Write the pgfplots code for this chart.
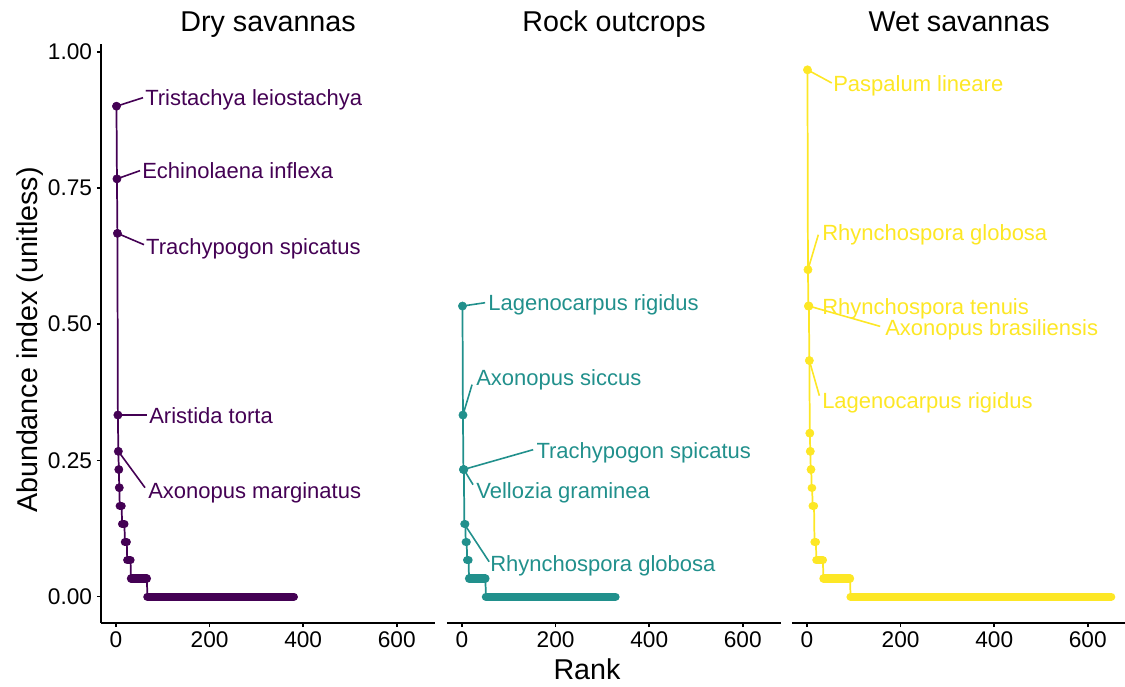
\documentclass[border=0pt]{standalone}
\usepackage{pgfplots}
\pgfplotsset{compat=1.18}
\usepackage{fontspec}
\setmainfont{Liberation Sans}

\definecolor{dry}{HTML}{440154}
\definecolor{rock}{HTML}{21908C}
\definecolor{wet}{HTML}{FDE725}

\pgfplotsset{
  facet/.style={
    scale only axis, width=250.95pt, height=434.6pt,
    xmin=-32.5, xmax=682.5, ymin=-0.0483, ymax=1.015,
    clip=false, anchor=south west,
    axis x line*=bottom,
    xtick={0,200,400,600},
    tick align=outside, major tick length=3pt,
    every tick/.style={black, line width=1.2pt},
    axis line style={line width=1.2pt, black},
    tick label style={font=\fontsize{17}{20}\selectfont, text=black},
    /pgf/number format/assume math mode=true,
  },
  noy/.style={axis y line=none, ytick=\empty},
  conn/.style={line width=1.3pt, mark=none},
  dots/.style={only marks, mark=*, mark size=3.1pt},
  run/.style={line width=6.2pt, line cap=round, mark=none},
}
\tikzset{
  lab/.style={anchor=base west, inner sep=0pt, font=\fontsize{16.5}{19}\selectfont},
  seg/.style={line width=1.2pt},
  ptitle/.style={anchor=base, inner sep=0pt, yshift=9pt, font=\fontsize{21.5}{24}\selectfont},
}

\begin{document}
\begin{tikzpicture}
\useasboundingbox (0,0) rectangle (843.75pt,514.5pt);

% ---------------- Dry savannas ----------------
\begin{axis}[facet, at={(75.6pt,47.25pt)},
  axis y line*=left,
  ytick={0,0.25,0.5,0.75,1},
  yticklabel style={/pgf/number format/.cd, fixed, fixed zerofill, precision=2},
]
\addplot[conn, dry] coordinates {(1,0.9) (2,0.7667) (3,0.6667) (4,0.3333) (5,0.2667)
  (6,0.2333) (7,0.2) (8,0.1667) (12,0.1667) (13,0.1333) (18,0.1333) (19,0.1) (23,0.1)
  (24,0.0667) (31,0.0667) (32,0.0333) (66,0.0333) (67,0) (380,0)};
\addplot[dots, dry] coordinates {(1,0.9) (2,0.7667) (3,0.6667) (4,0.3333) (5,0.2667) (6,0.2333) (7,0.2)};
\addplot[run, dry] coordinates {(8,0.1667) (12,0.1667)};
\addplot[run, dry] coordinates {(13,0.1333) (18,0.1333)};
\addplot[run, dry] coordinates {(19,0.1) (23,0.1)};
\addplot[run, dry] coordinates {(24,0.0667) (31,0.0667)};
\addplot[run, dry] coordinates {(32,0.0333) (66,0.0333)};
\addplot[run, dry] coordinates {(67,0) (380,0)};
\draw[seg, dry] (1,0.9) -- (57.7,0.9156);
\draw[seg, dry] (2,0.7667) -- (51.3,0.7817);
\draw[seg, dry] (3,0.6667) -- (59.8,0.6459);
\draw[seg, dry] (4,0.3333) -- (66.2,0.3333);
\draw[seg, dry] (5,0.2667) -- (62,0.2);
\node[lab, dry] at (62,0.901) {Tristachya leiostachya};
\node[lab, dry] at (55.6,0.767) {Echinolaena inflexa};
\node[lab, dry] at (64,0.6275) {Trachypogon spicatus};
\node[lab, dry] at (70.5,0.3174) {Aristida torta};
\node[lab, dry] at (68.4,0.1798) {Axonopus marginatus};
\node[ptitle] at (rel axis cs:0.5,1) {Dry savannas};
\end{axis}

% ---------------- Rock outcrops ----------------
\begin{axis}[facet, noy, at={(335.1pt,47.25pt)}]
\addplot[conn, rock] coordinates {(1,0.5333) (2,0.3333) (3,0.2333) (4,0.2333)
  (5,0.1333) (7,0.1333) (8,0.1) (10,0.1) (11,0.0667) (14,0.0667)
  (15,0.0333) (50,0.0333) (51,0) (328,0)};
\addplot[dots, rock] coordinates {(1,0.5333) (2,0.3333) (3,0.2333) (4,0.2333)};
\addplot[run, rock] coordinates {(5,0.1333) (7,0.1333)};
\addplot[run, rock] coordinates {(8,0.1) (10,0.1)};
\addplot[run, rock] coordinates {(11,0.0667) (14,0.0667)};
\addplot[run, rock] coordinates {(15,0.0333) (50,0.0333)};
\addplot[run, rock] coordinates {(51,0) (328,0)};
\draw[seg, rock] (1,0.5333) -- (49.3,0.5394);
\draw[seg, rock] (2,0.3333) -- (21.4,0.389);
\draw[seg, rock] (3,0.2333) -- (152,0.2697);
\draw[seg, rock] (4,0.2333) -- (23.6,0.2055);
\draw[seg, rock] (5,0.1333) -- (57.9,0.0642);
\node[lab, rock] at (55.7,0.5248) {Lagenocarpus rigidus};
\node[lab, rock] at (30,0.3872) {Axonopus siccus};
\node[lab, rock] at (158.6,0.2532) {Trachypogon spicatus};
\node[lab, rock] at (30,0.1798) {Vellozia graminea};
\node[lab, rock] at (60,0.0459) {Rhynchospora globosa};
\node[ptitle] at (rel axis cs:0.5,1) {Rock outcrops};
\end{axis}

% ---------------- Wet savannas ----------------
\begin{axis}[facet, noy, at={(593.85pt,47.25pt)}]
\addplot[conn, wet] coordinates {(1,0.9667) (2,0.6) (3,0.5333) (4,0.5333) (5,0.4333)
  (6,0.3) (7,0.2667) (8,0.2333) (9,0.2333) (10,0.2) (11,0.2) (12,0.1667) (15,0.1667)
  (16,0.1) (19,0.1) (20,0.0667) (34,0.0667) (35,0.0333) (92,0.0333) (93,0) (650,0)};
\addplot[dots, wet] coordinates {(1,0.9667) (2,0.6) (3,0.5333) (4,0.5333) (5,0.4333) (6,0.3) (7,0.2667)};
\addplot[run, wet] coordinates {(8,0.2333) (9,0.2333)};
\addplot[run, wet] coordinates {(10,0.2) (11,0.2)};
\addplot[run, wet] coordinates {(12,0.1667) (15,0.1667)};
\addplot[run, wet] coordinates {(16,0.1) (19,0.1)};
\addplot[run, wet] coordinates {(20,0.0667) (34,0.0667)};
\addplot[run, wet] coordinates {(35,0.0333) (92,0.0333)};
\addplot[run, wet] coordinates {(93,0) (650,0)};
\draw[seg, wet] (1,0.9667) -- (52.9,0.9426);
\draw[seg, wet] (2,0.6) -- (24.2,0.6642);
\draw[seg, wet] (4,0.5333) -- (156.4,0.496);
\draw[seg, wet] (5,0.4333) -- (26.4,0.3688);
\node[lab, wet] at (55.6,0.9266) {Paspalum lineare};
\node[lab, wet] at (32,0.6538) {Rhynchospora globosa};
\node[lab, wet] at (32,0.518) {Rhynchospora tenuis};
\node[lab, wet] at (166.7,0.4789) {Axonopus brasiliensis};
\node[lab, wet] at (32,0.3455) {Lagenocarpus rigidus};
\node[ptitle] at (rel axis cs:0.5,1) {Wet savannas};
\end{axis}

% shared axis titles
\node[anchor=base, inner sep=0pt, font=\fontsize{21.5}{24}\selectfont] at (440.25pt,5.25pt) {Rank};
\node[anchor=base, rotate=90, inner sep=0pt, font=\fontsize{21.5}{24}\selectfont] at (27.75pt,259.5pt) {Abundance index (unitless)};
\end{tikzpicture}
\end{document}
